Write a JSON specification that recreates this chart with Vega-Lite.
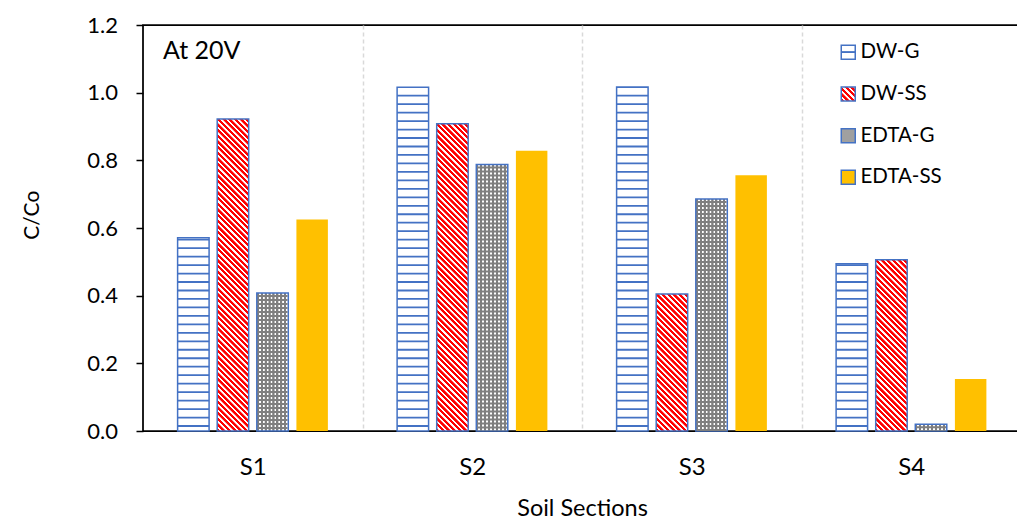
{
  "$schema": "https://vega.github.io/schema/vega-lite/v6.json",
  "autosize": {"type": "none"},
  "padding": {"left": 143, "top": 25, "right": 0, "bottom": 98},
  "width": 878,
  "height": 406,
  "background": "white",
  "config": {
    "font": "Lato",
    "view": {"stroke": "#000", "strokeWidth": 1.75}
  },
  "params": [
    {
      "name": "ss",
      "value": [
        {"offset":0,"color":"red"},{"offset":0.005,"color":"red"},{"offset":0.006,"color":"#fff"},{"offset":0.0095,"color":"#fff"},
        {"offset":0.01,"color":"red"},{"offset":0.015,"color":"red"},{"offset":0.016,"color":"#fff"},{"offset":0.0195,"color":"#fff"},
        {"offset":0.02,"color":"red"},{"offset":0.025,"color":"red"},{"offset":0.026,"color":"#fff"},{"offset":0.0295,"color":"#fff"},
        {"offset":0.03,"color":"red"},{"offset":0.035,"color":"red"},{"offset":0.036,"color":"#fff"},{"offset":0.0395,"color":"#fff"},
        {"offset":0.04,"color":"red"},{"offset":0.045,"color":"red"},{"offset":0.046,"color":"#fff"},{"offset":0.0495,"color":"#fff"},
        {"offset":0.05,"color":"red"},{"offset":0.055,"color":"red"},{"offset":0.056,"color":"#fff"},{"offset":0.0595,"color":"#fff"},
        {"offset":0.06,"color":"red"},{"offset":0.065,"color":"red"},{"offset":0.066,"color":"#fff"},{"offset":0.0695,"color":"#fff"},
        {"offset":0.07,"color":"red"},{"offset":0.075,"color":"red"},{"offset":0.076,"color":"#fff"},{"offset":0.0795,"color":"#fff"},
        {"offset":0.08,"color":"red"},{"offset":0.085,"color":"red"},{"offset":0.086,"color":"#fff"},{"offset":0.0895,"color":"#fff"},
        {"offset":0.09,"color":"red"},{"offset":0.095,"color":"red"},{"offset":0.096,"color":"#fff"},{"offset":0.0995,"color":"#fff"},
        {"offset":0.1,"color":"red"},{"offset":0.105,"color":"red"},{"offset":0.106,"color":"#fff"},{"offset":0.1095,"color":"#fff"},
        {"offset":0.11,"color":"red"},{"offset":0.115,"color":"red"},{"offset":0.116,"color":"#fff"},{"offset":0.1195,"color":"#fff"},
        {"offset":0.12,"color":"red"},{"offset":0.125,"color":"red"},{"offset":0.126,"color":"#fff"},{"offset":0.1295,"color":"#fff"},
        {"offset":0.13,"color":"red"},{"offset":0.135,"color":"red"},{"offset":0.136,"color":"#fff"},{"offset":0.1395,"color":"#fff"},
        {"offset":0.14,"color":"red"},{"offset":0.145,"color":"red"},{"offset":0.146,"color":"#fff"},{"offset":0.1495,"color":"#fff"},
        {"offset":0.15,"color":"red"},{"offset":0.155,"color":"red"},{"offset":0.156,"color":"#fff"},{"offset":0.1595,"color":"#fff"},
        {"offset":0.16,"color":"red"},{"offset":0.165,"color":"red"},{"offset":0.166,"color":"#fff"},{"offset":0.1695,"color":"#fff"},
        {"offset":0.17,"color":"red"},{"offset":0.175,"color":"red"},{"offset":0.176,"color":"#fff"},{"offset":0.1795,"color":"#fff"},
        {"offset":0.18,"color":"red"},{"offset":0.185,"color":"red"},{"offset":0.186,"color":"#fff"},{"offset":0.1895,"color":"#fff"},
        {"offset":0.19,"color":"red"},{"offset":0.195,"color":"red"},{"offset":0.196,"color":"#fff"},{"offset":0.1995,"color":"#fff"},
        {"offset":0.2,"color":"red"},{"offset":0.205,"color":"red"},{"offset":0.206,"color":"#fff"},{"offset":0.2095,"color":"#fff"},
        {"offset":0.21,"color":"red"},{"offset":0.215,"color":"red"},{"offset":0.216,"color":"#fff"},{"offset":0.2195,"color":"#fff"},
        {"offset":0.22,"color":"red"},{"offset":0.225,"color":"red"},{"offset":0.226,"color":"#fff"},{"offset":0.2295,"color":"#fff"},
        {"offset":0.23,"color":"red"},{"offset":0.235,"color":"red"},{"offset":0.236,"color":"#fff"},{"offset":0.2395,"color":"#fff"},
        {"offset":0.24,"color":"red"},{"offset":0.245,"color":"red"},{"offset":0.246,"color":"#fff"},{"offset":0.2495,"color":"#fff"},
        {"offset":0.25,"color":"red"},{"offset":0.255,"color":"red"},{"offset":0.256,"color":"#fff"},{"offset":0.2595,"color":"#fff"},
        {"offset":0.26,"color":"red"},{"offset":0.265,"color":"red"},{"offset":0.266,"color":"#fff"},{"offset":0.2695,"color":"#fff"},
        {"offset":0.27,"color":"red"},{"offset":0.275,"color":"red"},{"offset":0.276,"color":"#fff"},{"offset":0.2795,"color":"#fff"},
        {"offset":0.28,"color":"red"},{"offset":0.285,"color":"red"},{"offset":0.286,"color":"#fff"},{"offset":0.2895,"color":"#fff"},
        {"offset":0.29,"color":"red"},{"offset":0.295,"color":"red"},{"offset":0.296,"color":"#fff"},{"offset":0.2995,"color":"#fff"},
        {"offset":0.3,"color":"red"},{"offset":0.305,"color":"red"},{"offset":0.306,"color":"#fff"},{"offset":0.3095,"color":"#fff"},
        {"offset":0.31,"color":"red"},{"offset":0.315,"color":"red"},{"offset":0.316,"color":"#fff"},{"offset":0.3195,"color":"#fff"},
        {"offset":0.32,"color":"red"},{"offset":0.325,"color":"red"},{"offset":0.326,"color":"#fff"},{"offset":0.3295,"color":"#fff"},
        {"offset":0.33,"color":"red"},{"offset":0.335,"color":"red"},{"offset":0.336,"color":"#fff"},{"offset":0.3395,"color":"#fff"},
        {"offset":0.34,"color":"red"},{"offset":0.345,"color":"red"},{"offset":0.346,"color":"#fff"},{"offset":0.3495,"color":"#fff"},
        {"offset":0.35,"color":"red"},{"offset":0.355,"color":"red"},{"offset":0.356,"color":"#fff"},{"offset":0.3595,"color":"#fff"},
        {"offset":0.36,"color":"red"},{"offset":0.365,"color":"red"},{"offset":0.366,"color":"#fff"},{"offset":0.3695,"color":"#fff"},
        {"offset":0.37,"color":"red"},{"offset":0.375,"color":"red"},{"offset":0.376,"color":"#fff"},{"offset":0.3795,"color":"#fff"},
        {"offset":0.38,"color":"red"},{"offset":0.385,"color":"red"},{"offset":0.386,"color":"#fff"},{"offset":0.3895,"color":"#fff"},
        {"offset":0.39,"color":"red"},{"offset":0.395,"color":"red"},{"offset":0.396,"color":"#fff"},{"offset":0.3995,"color":"#fff"},
        {"offset":0.4,"color":"red"},{"offset":0.405,"color":"red"},{"offset":0.406,"color":"#fff"},{"offset":0.4095,"color":"#fff"},
        {"offset":0.41,"color":"red"},{"offset":0.415,"color":"red"},{"offset":0.416,"color":"#fff"},{"offset":0.4195,"color":"#fff"},
        {"offset":0.42,"color":"red"},{"offset":0.425,"color":"red"},{"offset":0.426,"color":"#fff"},{"offset":0.4295,"color":"#fff"},
        {"offset":0.43,"color":"red"},{"offset":0.435,"color":"red"},{"offset":0.436,"color":"#fff"},{"offset":0.4395,"color":"#fff"},
        {"offset":0.44,"color":"red"},{"offset":0.445,"color":"red"},{"offset":0.446,"color":"#fff"},{"offset":0.4495,"color":"#fff"},
        {"offset":0.45,"color":"red"},{"offset":0.455,"color":"red"},{"offset":0.456,"color":"#fff"},{"offset":0.4595,"color":"#fff"},
        {"offset":0.46,"color":"red"},{"offset":0.465,"color":"red"},{"offset":0.466,"color":"#fff"},{"offset":0.4695,"color":"#fff"},
        {"offset":0.47,"color":"red"},{"offset":0.475,"color":"red"},{"offset":0.476,"color":"#fff"},{"offset":0.4795,"color":"#fff"},
        {"offset":0.48,"color":"red"},{"offset":0.485,"color":"red"},{"offset":0.486,"color":"#fff"},{"offset":0.4895,"color":"#fff"},
        {"offset":0.49,"color":"red"},{"offset":0.495,"color":"red"},{"offset":0.496,"color":"#fff"},{"offset":0.4995,"color":"#fff"},
        {"offset":0.5,"color":"red"},{"offset":0.505,"color":"red"},{"offset":0.506,"color":"#fff"},{"offset":0.5095,"color":"#fff"},
        {"offset":0.51,"color":"red"},{"offset":0.515,"color":"red"},{"offset":0.516,"color":"#fff"},{"offset":0.5195,"color":"#fff"},
        {"offset":0.52,"color":"red"},{"offset":0.525,"color":"red"},{"offset":0.526,"color":"#fff"},{"offset":0.5295,"color":"#fff"},
        {"offset":0.53,"color":"red"},{"offset":0.535,"color":"red"},{"offset":0.536,"color":"#fff"},{"offset":0.5395,"color":"#fff"},
        {"offset":0.54,"color":"red"},{"offset":0.545,"color":"red"},{"offset":0.546,"color":"#fff"},{"offset":0.5495,"color":"#fff"},
        {"offset":0.55,"color":"red"},{"offset":0.555,"color":"red"},{"offset":0.556,"color":"#fff"},{"offset":0.5595,"color":"#fff"},
        {"offset":0.56,"color":"red"},{"offset":0.565,"color":"red"},{"offset":0.566,"color":"#fff"},{"offset":0.5695,"color":"#fff"},
        {"offset":0.57,"color":"red"},{"offset":0.575,"color":"red"},{"offset":0.576,"color":"#fff"},{"offset":0.5795,"color":"#fff"},
        {"offset":0.58,"color":"red"},{"offset":0.585,"color":"red"},{"offset":0.586,"color":"#fff"},{"offset":0.5895,"color":"#fff"},
        {"offset":0.59,"color":"red"},{"offset":0.595,"color":"red"},{"offset":0.596,"color":"#fff"},{"offset":0.5995,"color":"#fff"},
        {"offset":0.6,"color":"red"},{"offset":0.605,"color":"red"},{"offset":0.606,"color":"#fff"},{"offset":0.6095,"color":"#fff"},
        {"offset":0.61,"color":"red"},{"offset":0.615,"color":"red"},{"offset":0.616,"color":"#fff"},{"offset":0.6195,"color":"#fff"}
      ]
    }
  ],
  "data": {
    "values": [
      {"Section": "S1", "Series": "DW-G", "value": 0.571},
      {"Section": "S1", "Series": "DW-SS", "value": 0.922},
      {"Section": "S1", "Series": "EDTA-G", "value": 0.408},
      {"Section": "S1", "Series": "EDTA-SS", "value": 0.625},
      {"Section": "S2", "Series": "DW-G", "value": 1.016},
      {"Section": "S2", "Series": "DW-SS", "value": 0.908},
      {"Section": "S2", "Series": "EDTA-G", "value": 0.788},
      {"Section": "S2", "Series": "EDTA-SS", "value": 0.828},
      {"Section": "S3", "Series": "DW-G", "value": 1.017},
      {"Section": "S3", "Series": "DW-SS", "value": 0.405},
      {"Section": "S3", "Series": "EDTA-G", "value": 0.686},
      {"Section": "S3", "Series": "EDTA-SS", "value": 0.756},
      {"Section": "S4", "Series": "DW-G", "value": 0.494},
      {"Section": "S4", "Series": "DW-SS", "value": 0.506},
      {"Section": "S4", "Series": "EDTA-G", "value": 0.020},
      {"Section": "S4", "Series": "EDTA-SS", "value": 0.154}
    ]
  },
  "layer": [
    {
      "mark": {"type": "bar", "strokeWidth": 1.5},
      "encoding": {
        "x": {
          "field": "Section",
          "type": "nominal",
          "scale": {"paddingInner": 0, "paddingOuter": 0},
          "axis": {
            "title": "Soil Sections",
            "labelAngle": 0,
            "labelFontSize": 24,
            "labelColor": "#000",
            "labelPadding": 24.4,
            "ticks": false,
            "tickSize": 0,
            "domain": false,
            "grid": true,
            "tickBand": "extent",
            "gridDash": [4, 3],
            "gridWidth": 1.5,
            "gridColor": {"condition": {"test": "!!datum.extra", "value": "transparent"}, "value": "#d9d9d9"},
            "titleFontSize": 23.5,
            "titleFontWeight": "normal",
            "titleColor": "#000",
            "titleBaseline": "alphabetic",
            "titleY": 84
          }
        },
        "xOffset": {
          "field": "Series",
          "type": "nominal",
          "scale": {"paddingInner": 0.205, "paddingOuter": 0.874}
        },
        "y": {
          "field": "value",
          "type": "quantitative",
          "scale": {"domain": [0, 1.2], "nice": false},
          "axis": {
            "title": "C/Co",
            "values": [0, 0.2, 0.4, 0.6, 0.8, 1.0, 1.2],
            "format": ".1f",
            "grid": false,
            "domain": false,
            "ticks": true,
            "tickSize": 7,
            "tickWidth": 1.5,
            "tickColor": "#000",
            "labelFontSize": 22,
            "labelColor": "#000",
            "labelPadding": 18.5,
            "labelFlush": false,
            "titleFontSize": 21,
            "titleFontWeight": "normal",
            "titleColor": "#000",
            "titleAngle": -90,
            "titleBaseline": "alphabetic",
            "titleX": -104.7,
            "titleY": 189.7
          }
        },
        "fill": {
          "field": "Series",
          "type": "nominal",
          "scale": {
            "domain": ["DW-G", "DW-SS", "EDTA-G", "EDTA-SS"],
            "range": [
              {"expr": "{gradient: 'linear', x1: 0, y1: 0, x2: 0, y2: 1, stops: [{offset: 0, color: '#fff'}, {offset: 0.42, color: '#fff'}, {offset: 0.45, color: '#4472c4'}, {offset: 0.55, color: '#4472c4'}, {offset: 0.58, color: '#fff'}, {offset: 1, color: '#fff'}]}"},
              {"expr": "{gradient: 'linear', x1: 0, y1: 1, x2: 20.2, y2: -19.2, stops: ss}"},
              "#a0a0a0",
              "#ffc000"
            ]
          },
          "condition": [
            {
              "test": "datum.Series === 'DW-SS'",
              "value": {"expr": "{gradient: 'linear', x1: 0, y1: 1, x2: 566 * bandwidth('xOffset') / (pow(bandwidth('xOffset'), 2) + pow(scale('y', 0) - scale('y', datum.value), 2)), y2: 1 - 566 * (scale('y', 0) - scale('y', datum.value)) / (pow(bandwidth('xOffset'), 2) + pow(scale('y', 0) - scale('y', datum.value), 2)), stops: ss}"}
            },
            {"test": "datum.Series === 'DW-G'", "value": "#ffffff"},
            {
              "test": "datum.Series === 'EDTA-G'",
              "value": {
                "gradient": "linear", "x1": 0, "y1": 0, "x2": 1, "y2": 0,
                "stops": [
                  {"offset":0,"color":"#7f7f7f"},{"offset":0.0575,"color":"#7f7f7f"},{"offset":0.0675,"color":"#fff"},{"offset":0.1175,"color":"#fff"},
                  {"offset":0.125,"color":"#7f7f7f"},{"offset":0.1825,"color":"#7f7f7f"},{"offset":0.1925,"color":"#fff"},{"offset":0.2425,"color":"#fff"},
                  {"offset":0.25,"color":"#7f7f7f"},{"offset":0.3075,"color":"#7f7f7f"},{"offset":0.3175,"color":"#fff"},{"offset":0.3675,"color":"#fff"},
                  {"offset":0.375,"color":"#7f7f7f"},{"offset":0.4325,"color":"#7f7f7f"},{"offset":0.4425,"color":"#fff"},{"offset":0.4925,"color":"#fff"},
                  {"offset":0.5,"color":"#7f7f7f"},{"offset":0.5575,"color":"#7f7f7f"},{"offset":0.5675,"color":"#fff"},{"offset":0.6175,"color":"#fff"},
                  {"offset":0.625,"color":"#7f7f7f"},{"offset":0.6825,"color":"#7f7f7f"},{"offset":0.6925,"color":"#fff"},{"offset":0.7425,"color":"#fff"},
                  {"offset":0.75,"color":"#7f7f7f"},{"offset":0.8075,"color":"#7f7f7f"},{"offset":0.8175,"color":"#fff"},{"offset":0.8675,"color":"#fff"},
                  {"offset":0.875,"color":"#7f7f7f"},{"offset":0.9325,"color":"#7f7f7f"},{"offset":0.9425,"color":"#fff"},{"offset":0.9925,"color":"#fff"},
                  {"offset":1,"color":"#7f7f7f"}
                ]
              }
            }
          ],
          "legend": {
            "title": null,
            "orient": "none",
            "legendX": 695,
            "legendY": 17,
            "direction": "vertical",
            "symbolType": "square",
            "symbolSize": 196,
            "symbolStrokeWidth": 1.5,
            "labelFontSize": 20.5,
            "labelColor": "#000",
            "labelOffset": 2,
            "rowPadding": 20.7,
            "encode": {
              "symbols": {
                "update": {
                  "stroke": {"signal": "datum.value === 'EDTA-SS' ? 'transparent' : '#4472c4'"},
                  "strokeWidth": {"value": 1.5}
                }
              }
            }
          }
        },
        "stroke": {
          "condition": {"test": "datum.Series === 'EDTA-SS'", "value": null},
          "value": "#4472c4"
        }
      }
    },
    {
      "transform": [{"filter": "datum.Series === 'DW-G'"}],
      "mark": {
        "type": "rule",
        "color": "#4472c4",
        "strokeCap": "butt",
        "strokeDash": [1.8, 6.67],
        "strokeDashOffset": {"expr": "((5.9 - (scale('y', 0) - scale('y', datum.value))) % 8.47 + 8.47) % 8.47"},
        "strokeWidth": {"expr": "bandwidth('xOffset')"}
      },
      "encoding": {
        "x": {"field": "Section", "type": "nominal"},
        "xOffset": {"field": "Series", "type": "nominal"},
        "y": {"field": "value", "type": "quantitative"},
        "y2": {"datum": 0}
      }
    },
    {
      "transform": [{"filter": "datum.Series === 'EDTA-G'"}],
      "mark": {
        "type": "rule",
        "color": "#7f7f7f",
        "strokeCap": "butt",
        "strokeDash": [2, 2],
        "strokeDashOffset": 2,
        "strokeWidth": {"expr": "bandwidth('xOffset') - 1.5"}
      },
      "encoding": {
        "x": {"field": "Section", "type": "nominal"},
        "xOffset": {"field": "Series", "type": "nominal"},
        "y": {"field": "value", "type": "quantitative"},
        "y2": {"datum": 0}
      }
    },
    {
      "data": {"values": [{"label": "At 20V"}]},
      "mark": {"type": "text", "align": "left", "baseline": "alphabetic", "dx": 20, "fontSize": 25, "color": "#000"},
      "encoding": {
        "x": {"datum": "S1", "type": "nominal", "bandPosition": 0},
        "y": {"datum": 1.1, "type": "quantitative"},
        "text": {"field": "label"}
      }
    }
  ]
}
